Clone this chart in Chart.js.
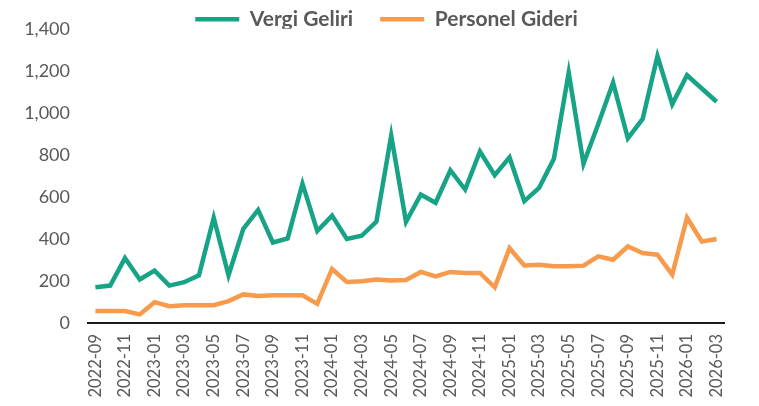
<!DOCTYPE html>
<html><head><meta charset="utf-8">
<script src="https://cdn.jsdelivr.net/npm/chart.js@4"></script>
<style>html,body{margin:0;padding:0;background:#fff}canvas{display:block}</style>
</head><body>
<canvas id="c" width="759" height="406"></canvas>
<script>
const months = ["2022-09","2022-10","2022-11","2022-12","2023-01","2023-02","2023-03","2023-04","2023-05","2023-06","2023-07","2023-08","2023-09","2023-10","2023-11","2023-12","2024-01","2024-02","2024-03","2024-04","2024-05","2024-06","2024-07","2024-08","2024-09","2024-10","2024-11","2024-12","2025-01","2025-02","2025-03","2025-04","2025-05","2025-06","2025-07","2025-08","2025-09","2025-10","2025-11","2025-12","2026-01","2026-02","2026-03"];
const vergiGeliri = [170,178,309,207,249,178,194,227,501,227,448,538,383,403,663,438,511,400,415,482,892,482,611,572,727,635,816,703,788,580,643,782,1191,758,947,1144,879,971,1270,1041,1179,1116,1053];
const personelGideri = [57,57,57,41,99,80,85,85,85,104,136,128,132,132,132,91,257,195,199,207,202,205,243,222,243,238,238,170,356,274,277,270,270,273,317,301,364,333,325,230,501,388,400];
const yTicks = [0,200,400,600,800,1000,1200,1400];
const seriesNames = ["Vergi Geliri","Personel Gideri"];

const GREEN = '#17A386', ORANGE = '#F79A4B', TXT = '#595959';
const FONT = "Lato, 'Open Sans', sans-serif";

new Chart(document.getElementById('c'), {
  type: 'line',
  data: {
    labels: months,
    datasets: [
      {label: seriesNames[0], data: vergiGeliri, borderColor: GREEN, backgroundColor: GREEN, borderWidth: 4.5, pointRadius: 0, tension: 0},
      {label: seriesNames[1], data: personelGideri, borderColor: ORANGE, backgroundColor: ORANGE, borderWidth: 4.5, pointRadius: 0, tension: 0}
    ]
  },
  options: {
    responsive: false,
    animation: false,
    layout: {padding: {left: 14, right: 0, top: -21, bottom: 0}},
    plugins: {
      legend: {
        position: 'top',
        maxHeight: 47,
        labels: {
          usePointStyle: true, pointStyle: 'line', pointStyleWidth: 44,
          color: TXT, font: {family: FONT, size: 21, weight: 'bold'},
          padding: 27
        }
      },
      tooltip: {enabled: false}
    },
    scales: {
      x: {
        offset: true,
        grid: {display: false, drawTicks: false},
        border: {display: true, color: '#1a1a1a', width: 2},
        ticks: {
          autoSkip: false, minRotation: 90, maxRotation: 90, padding: 11,
          color: TXT, font: {family: FONT, size: 16.5},
          callback: function(v, i) { return i % 2 === 0 ? months[i] : ''; }
        },
        afterFit: s => { s.height = 83; }
      },
      y: {
        min: 0, max: 1400,
        afterBuildTicks: s => { s.ticks = yTicks.map(v => ({value: v})); },
        grid: {display: false, drawTicks: false},
        border: {display: false},
        ticks: {
          padding: 18, color: TXT, font: {family: FONT, size: 18},
          callback: v => v.toLocaleString('en-US')
        },
        afterFit: s => { s.width = 74; }
      },
      yRight: {
        position: 'right', display: true, min: 0, max: 1400,
        grid: {display: false, drawTicks: false},
        border: {display: false},
        ticks: {display: false},
        afterFit: s => { s.width = 35; }
      }
    }
  }
});
</script>
</body></html>
